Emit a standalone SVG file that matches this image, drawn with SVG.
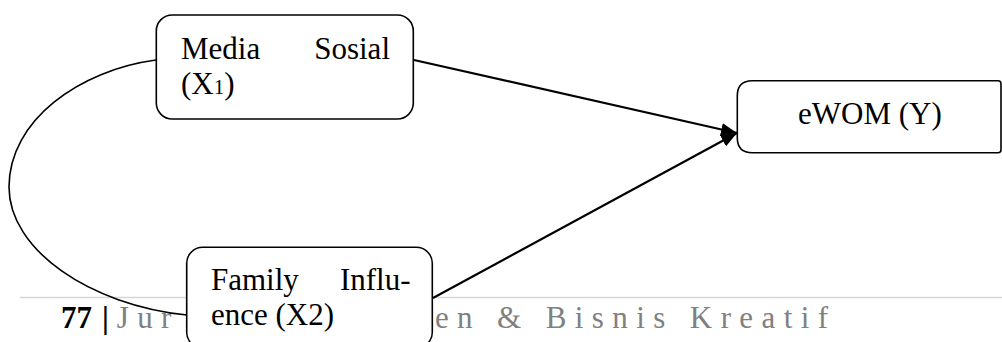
<svg xmlns="http://www.w3.org/2000/svg" width="1002" height="342" viewBox="0 0 1002 342">
<defs>
<style>
.box{fill:#fff;stroke:#000;stroke-width:1.6}
.t{font-family:"Liberation Serif","Times New Roman",serif;font-size:31px;fill:#000}
.edge{fill:none;stroke:#000;stroke-width:2.2}
.curve{fill:none;stroke:#000;stroke-width:1.6}
.foot{font-family:"Liberation Serif","Times New Roman",serif;font-size:31px}
.grey{fill:#808080;letter-spacing:8.4px}
</style>
<marker id="ah" markerUnits="userSpaceOnUse" markerWidth="17" markerHeight="13" refX="16" refY="6.5" orient="auto">
<path d="M0,0 L16,6.5 L0,13 z" fill="#000"/>
</marker>
</defs>
<g id="footer">
<line x1="20" y1="297.5" x2="1002" y2="297.5" stroke="#d6d6d6" stroke-width="1.6"/>
<text class="foot" x="61" y="328" font-weight="bold" fill="#000">77</text>
<text class="foot" x="102" y="328" font-weight="bold" fill="#000">|</text>
<text class="foot grey" x="116.7" y="328">Jur</text>
<text class="foot grey" x="434.9" y="328">en &amp; Bisnis Kreatif</text>
</g>
<g id="connectors">
<path class="curve" d="M156,60 C80,70 9,120 9,187 C9,250 90,305 187,315"/>
<line class="edge" x1="414" y1="60" x2="737" y2="133" marker-end="url(#ah)"/>
<line class="edge" x1="433" y1="298" x2="737" y2="133" marker-end="url(#ah)"/>
</g>
<g id="node-media">
<rect class="box" x="156.3" y="15" width="257" height="104" rx="16"/>
<text class="t" x="181" y="58.5">Media</text>
<text class="t" x="390" y="58.5" text-anchor="end">Sosial</text>
<text class="t" x="181" y="93.5">(X<tspan font-size="21">1</tspan>)</text>
</g>
<g id="node-family">
<rect class="box" x="186.7" y="247.3" width="245.6" height="101" rx="16"/>
<text class="t" x="211" y="290">Family</text>
<text class="t" x="410.5" y="290" text-anchor="end">Influ-</text>
<text class="t" x="211" y="325">ence (X2)</text>
</g>
<g id="node-ewom">
<path class="box" d="M752.3,80.7 H998 Q1001,80.7 1001,83.7 V149.7 Q1001,152.7 998,152.7 H752.3 Q737.3,152.7 737.3,137.7 V95.7 Q737.3,80.7 752.3,80.7 Z"/>
<text class="t" x="798" y="124">eWOM (Y)</text>
</g>
</svg>
